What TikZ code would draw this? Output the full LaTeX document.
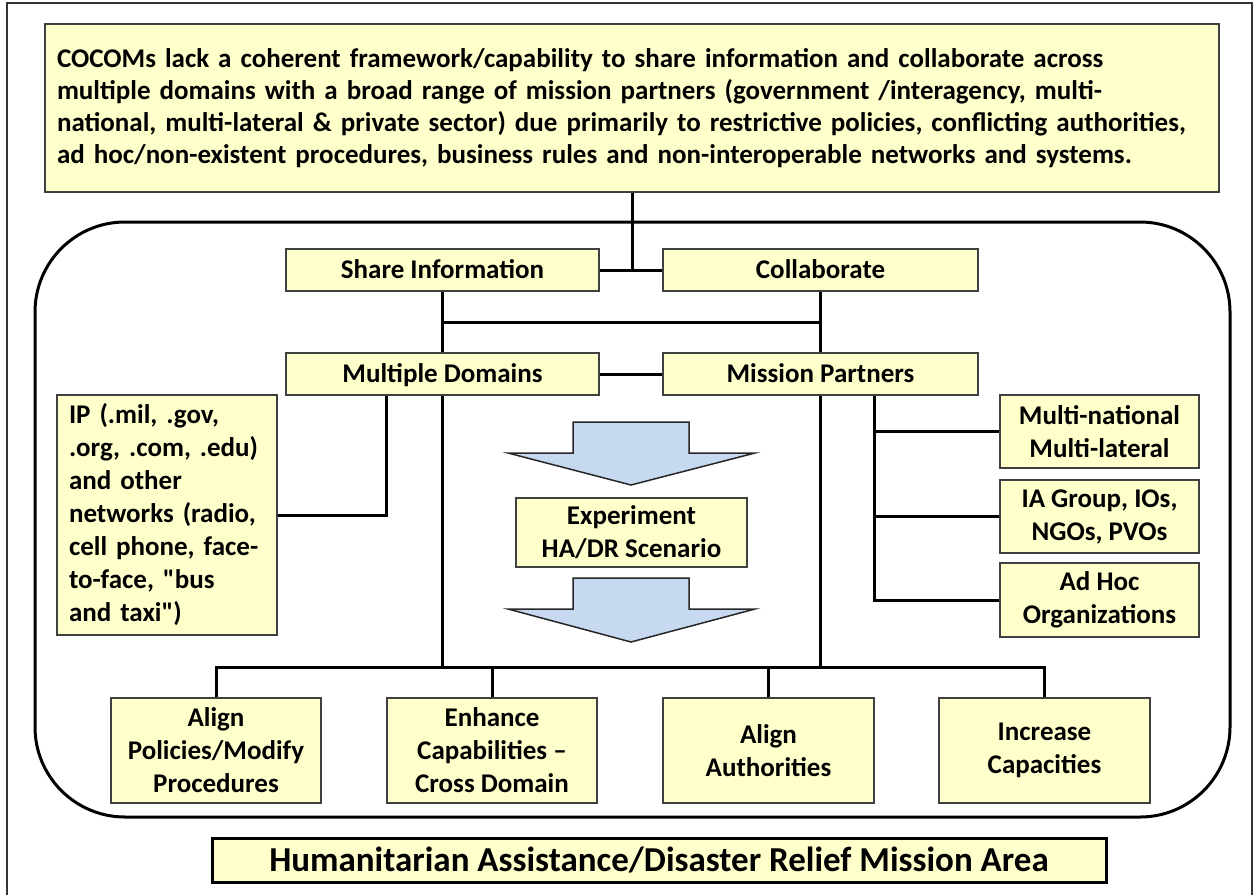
\documentclass[tikz,border=0pt]{standalone}
\usepackage{fontspec}
\setmainfont{Carlito}[Ligatures=TeXOff]
\usetikzlibrary{calc,backgrounds}
\definecolor{boxfill}{RGB}{255,255,204}
\definecolor{boxline}{RGB}{64,64,64}
\definecolor{arrowfill}{RGB}{198,217,241}
\begin{document}
\frenchspacing
\begin{tikzpicture}[x=1pt,y=-1pt,
  box/.style={draw=boxline, line width=1.5pt, fill=boxfill, inner sep=0pt,
    font=\bfseries\fontsize{27}{33}\selectfont, align=center},
  oneline/.style={text height=17.4pt, text depth=0pt},
  link/.style={line width=3pt, draw=black, line cap=rect},
  blockarrow/.style={draw=black!85, line width=1.5pt, fill=arrowfill, line join=miter}]
\useasboundingbox (0,0) rectangle (1257,894);

% top statement
\node[box, minimum width=1174pt, minimum height=168pt, text width=1150pt, inner xsep=12pt,
      align=left, font=\bfseries\fontsize{27}{32}\selectfont] (top) at (632,108)
 {COCOMs lack a coherent framework/capability to share information and collaborate across\\
  multiple domains with a broad range of mission partners (government /interagency, multi-\\
  national, multi-lateral \& private sector) due primarily to restrictive policies, conflicting authorities,\\
  ad hoc/non-existent procedures, business rules and non-interoperable networks and systems.};

\node[box, oneline, minimum width=313pt, minimum height=42pt] (si) at (442.5,270) {Share Information};
\node[box, oneline, minimum width=315pt, minimum height=42pt] (co) at (820.5,270) {Collaborate};
\node[box, oneline, minimum width=313pt, minimum height=42pt] (md) at (442.5,374) {Multiple Domains};
\node[box, oneline, minimum width=315pt, minimum height=42pt] (mp) at (820.5,374) {Mission Partners};

\node[box, minimum width=220pt, minimum height=240pt, text width=196pt, align=left] (ip) at (167,515)
 {IP (.mil, .gov,\\.org, .com, .edu)\\and other\\networks (radio,\\cell phone, face-\\to-face, "bus\\and taxi")};

\node[box, minimum width=199pt, minimum height=73pt] (mn) at (1099.5,431.5) {Multi-national\\Multi-lateral};
\node[box, minimum width=199pt, minimum height=73pt] (ia) at (1099.5,516.5) {IA Group, IOs,\\NGOs, PVOs};
\node[box, minimum width=199pt, minimum height=74pt] (ah) at (1099.5,600) {Ad Hoc\\Organizations};

\node[box, minimum width=231pt, minimum height=69pt] (ex) at (631.5,532.5) {Experiment\\HA/DR Scenario};

\node[box, minimum width=210pt, minimum height=105pt] (b1) at (216,750.5) {Align\\Policies/Modify\\Procedures};
\node[box, minimum width=210pt, minimum height=105pt] (b2) at (492,750.5) {Enhance\\Capabilities –\\Cross Domain};
\node[box, minimum width=211pt, minimum height=105pt] (b3) at (768.5,750.5) {Align\\Authorities};
\node[box, minimum width=211pt, minimum height=105pt] (b4) at (1044.5,750.5) {Increase\\Capacities};

\node[box, draw=black, line width=3pt, minimum width=894pt, minimum height=44pt,
      text height=22.5pt, text depth=0pt,
      font=\bfseries\fontsize{35}{40}\selectfont] (ha) at (659,860)
 {Humanitarian Assistance/Disaster Relief Mission Area};

% block arrows
\draw[blockarrow] (573,422) -- (689,422) -- (689,453) -- (755,453) -- (631,485) -- (508,453) -- (573,453) -- cycle;
\draw[blockarrow] (573,578) -- (689,578) -- (689,609) -- (755,609) -- (631,642) -- (508,609) -- (573,609) -- cycle;

\begin{scope}[on background layer]
  \draw[line width=1.5pt, draw=black!80] (7,900) -- (7,3) -- (1252,3) -- (1252,900);
  \draw[line width=3pt, rounded corners=90pt] (35,222) rectangle (1230,817);

  \draw[link] (top.south) -- (top.south |- si.east);
  \draw[link] (si.east) -- (co.west);
  \draw[link] (si.south) -- (md.north);
  \draw[link] (co.south) -- (mp.north);
  \coordinate (h1) at ($(si.south)!0.5!(md.north)$);
  \draw[link] (h1) -- (h1 -| co.south);
  \draw[link] (md.east) -- (mp.west);

  \coordinate (mdl) at (386,395);
  \draw[link] (mdl) |- (ip.east);

  \coordinate (bus) at (0,667);
  \draw[link] (b1.north) -- (b1.north |- bus) -- (b4.north |- bus) -- (b4.north);
  \draw[link] (b2.north) -- (b2.north |- bus);
  \draw[link] (b3.north) -- (b3.north |- bus);
  \draw[link] (md.south) -- (md.south |- bus);
  \draw[link] (mp.south) -- (mp.south |- bus);

  \coordinate (mpr) at (874,395);
  \draw[link] (mpr) |- (ah.west);
  \draw[link] (mpr |- mn.west) -- (mn.west);
  \draw[link] (mpr |- ia.west) -- (ia.west);
\end{scope}
\end{tikzpicture}
\end{document}
